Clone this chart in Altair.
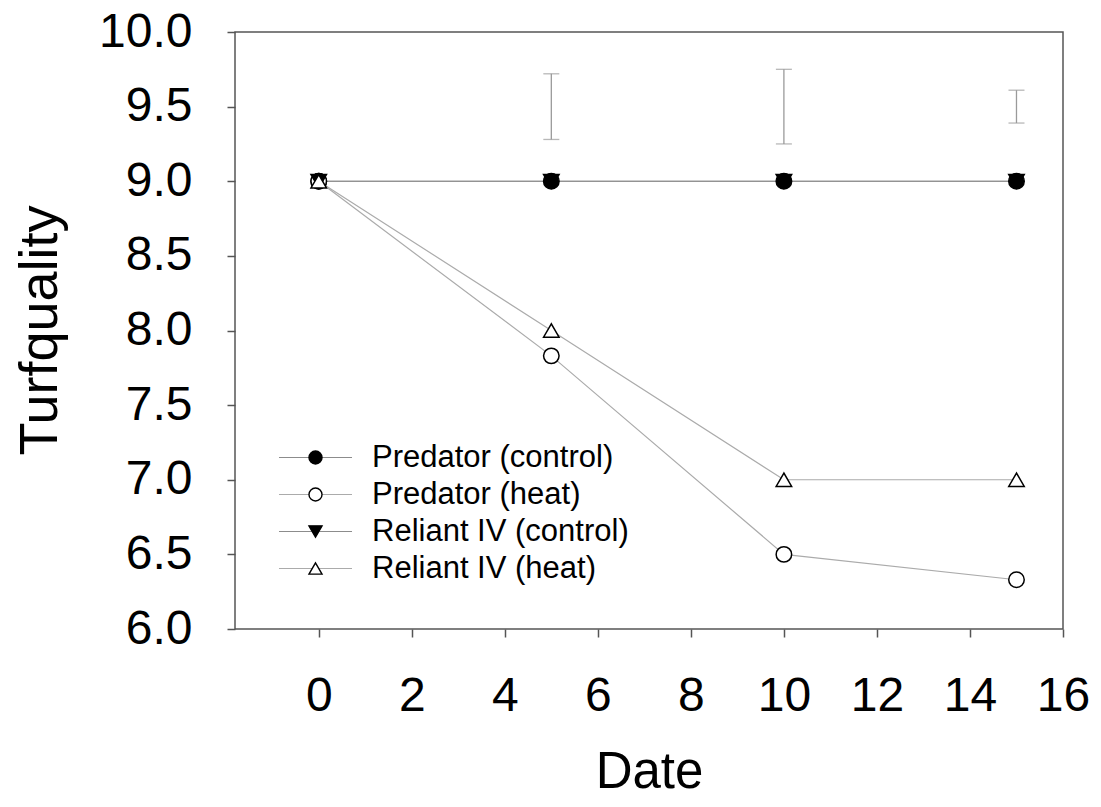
import altair as alt
import pandas as pd

# ---- data ----
series = ["Predator (control)", "Predator (heat)", "Reliant IV (control)", "Reliant IV (heat)"]
dates = [0, 5, 10, 15]
pred_control = [9.0, 9.0, 9.0, 9.0]
pred_heat = [9.0, 7.83, 6.5, 6.33]
rel_control = [9.0, 9.0, 9.0, 9.0]
rel_heat = [9.0, 8.0, 7.0, 7.0]

err_dates = [5, 10, 15]
err_low = [9.28, 9.25, 9.39]
err_high = [9.72, 9.75, 9.61]

x_ticks = [0, 2, 4, 6, 8, 10, 12, 14, 16]
y_ticks = [6.0, 6.5, 7.0, 7.5, 8.0, 8.5, 9.0, 9.5, 10.0]

shapes = ["circle", "circle", "triangle-down", "triangle-up"]
fills = ["black", "white", "black", "white"]
strokes = ["black", "black", "black", "black"]
line_colors = ["#8c8c8c", "#ababab", "#8c8c8c", "#ababab"]

rows = []
for s, vals in zip(series, [pred_control, pred_heat, rel_control, rel_heat]):
    for d, v in zip(dates, vals):
        rows.append({"series": s, "series_line": s, "date": d, "value": v})
df = pd.DataFrame(rows)
err_df = pd.DataFrame({"date": err_dates, "lo": err_low, "hi": err_high})

FONT = "Liberation Sans"
xscale = alt.Scale(domain=[-1.8, 16], nice=False, zero=False)
yscale = alt.Scale(domain=[6, 10], nice=False, zero=False)

x_axis = alt.Axis(values=x_ticks, format="d", labelFontSize=48, labelPadding=35,
                  tickSize=8, tickWidth=1.5, tickColor="#555555", domain=False, grid=False,
                  labelFlush=False, labelOverlap=False, title="Date", titleFontSize=51,
                  titleFontWeight="normal", titleY=118, titleBaseline="top")
y_axis = alt.Axis(values=y_ticks, format=".1f", labelFontSize=48, labelPadding=35,
                  tickSize=8, tickWidth=1.5, tickColor="#555555", domain=False, grid=False,
                  labelFlush=False, labelOverlap=False, title="Turfquality", titleFontSize=54,
                  titleFontWeight="normal", titleX=-168, titleY=298, titleAngle=270,
                  titleBaseline="bottom")

LEG_X = 65
LEG_Y = 410
LEG_SIZE = 170
common_leg = dict(title=None, orient="none", legendX=LEG_X, legendY=LEG_Y,
                  symbolSize=LEG_SIZE, labelFontSize=31, labelFont=FONT,
                  padding=0, rowPadding=5, labelLimit=500)

base = alt.Chart(df)

lines = base.mark_line(strokeWidth=1.2).encode(
    x=alt.X("date:Q", scale=xscale, axis=x_axis),
    y=alt.Y("value:Q", scale=yscale, axis=y_axis),
    color=alt.Color("series_line:N", scale=alt.Scale(range=line_colors),
                    legend=alt.Legend(symbolType="M-5.6,0L5.6,0", symbolStrokeWidth=1.2,
                                      labelOffset=41, labelColor="black", **common_leg)),
    detail="series:N",
)

pt_leg = alt.Legend(symbolStrokeWidth=1.4, labelOffset=41, labelOpacity=0, **common_leg)

points = base.mark_point(filled=False, size=240, strokeWidth=1.5, opacity=1).encode(
    x=alt.X("date:Q", scale=xscale),
    y=alt.Y("value:Q", scale=yscale),
    shape=alt.Shape("series:N", scale=alt.Scale(range=shapes), legend=pt_leg),
    fill=alt.Fill("series:N", scale=alt.Scale(range=fills), legend=pt_leg),
    stroke=alt.Stroke("series:N", scale=alt.Scale(range=strokes), legend=pt_leg),
)

err_base = alt.Chart(err_df)
err_rule = err_base.mark_rule(color="#9a9a9a", strokeWidth=1.3).encode(
    x=alt.X("date:Q", scale=xscale), y=alt.Y("lo:Q", scale=yscale), y2="hi:Q")
cap_lo = err_base.mark_tick(color="#9a9a9a", orient="horizontal", size=16, thickness=1.3).encode(
    x=alt.X("date:Q", scale=xscale), y=alt.Y("lo:Q", scale=yscale))
cap_hi = err_base.mark_tick(color="#9a9a9a", orient="horizontal", size=16, thickness=1.3).encode(
    x=alt.X("date:Q", scale=xscale), y=alt.Y("hi:Q", scale=yscale))

chart = alt.layer(err_rule, cap_lo, cap_hi, lines, points).properties(
    width=828, height=597,
    autosize=alt.AutoSizeParams(type="none"),
    padding={"left": 227, "top": 24, "right": 30, "bottom": 170},
).configure(font=FONT).configure_view(
    stroke="#555555", strokeWidth=1.5
).configure_axis(labelColor="black", titleColor="black", labelFont=FONT, titleFont=FONT)

chart.save("out.html", embed_options={"renderer": "svg", "actions": False})
